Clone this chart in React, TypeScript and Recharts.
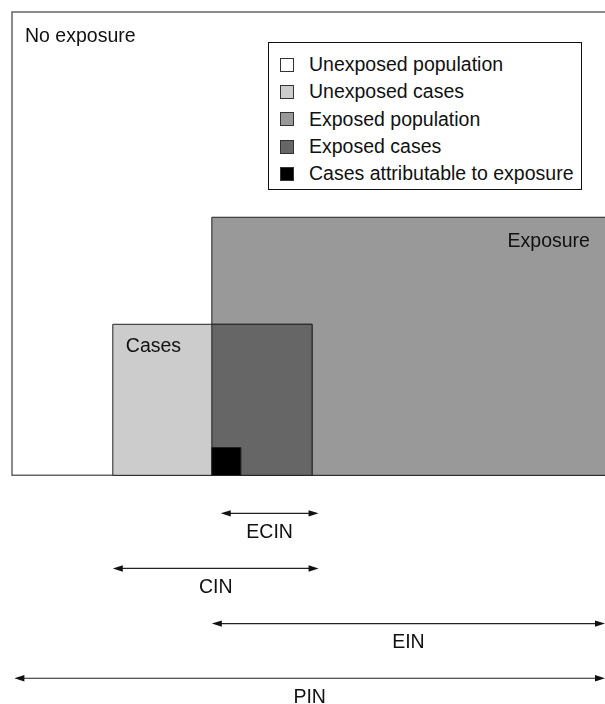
import React from 'react';
import { ComposedChart, XAxis, YAxis, ReferenceArea, ReferenceLine, Legend } from 'recharts';

const FONT = '"Liberation Sans", Arial, sans-serif';

// diagram units: whole population is 100 wide and 100 tall, intervals sit below 0
const regionNames = ['No exposure', 'Exposure', 'Cases', '', ''];
const regionX1 = [0, 33.7, 17.0, 33.7, 33.7];
const regionX2 = [101, 101, 50.6, 50.6, 38.6];
const regionTop = [100, 55.7, 32.6, 32.6, 6.0];

const intervalNames = ['ECIN', 'CIN', 'EIN', 'PIN'];
const intervalStart = [35.2, 17.0, 33.7, 0.4];
const intervalEnd = [51.7, 51.7, 100, 100];
const intervalLevel = [-8.2, -20.1, -32.0, -43.8];

const legendLabels = [
  'Unexposed population',
  'Unexposed cases',
  'Exposed population',
  'Exposed cases',
  'Cases attributable to exposure',
];

const regionFill = ['#ffffff', '#999999', '#cccccc', '#666666', '#000000'];
const regionStroke = ['#666666', '#222222', '#222222', '#222222', '#222222'];
const legendColors = ['#ffffff', '#cccccc', '#999999', '#666666', '#000000'];

const RegionLabel = ({ viewBox, text, side, dx, baseline }: any) => {
  if (!viewBox || !text) return null;
  const x = side === 'right' ? viewBox.x + viewBox.width - dx : viewBox.x + dx;
  return (
    <text
      x={x}
      y={viewBox.y + baseline}
      textAnchor={side === 'right' ? 'end' : 'start'}
      fill="#111"
      fontSize={19.5}
      fontFamily={FONT}
    >
      {text}
    </text>
  );
};

const labelPlacement = [
  { side: 'left', dx: 13, baseline: 30 },
  { side: 'right', dx: 21, baseline: 30 },
  { side: 'left', dx: 13, baseline: 28 },
  { side: 'left', dx: 0, baseline: 0 },
  { side: 'left', dx: 0, baseline: 0 },
];

const Arrow = (props: any) => {
  const { x1, y1, x2, y2 } = props;
  const h = 10;
  const w = 3.2;
  return (
    <g>
      <line x1={x1 + h - 1} y1={y1} x2={x2 - h + 1} y2={y2} stroke="#222" strokeWidth={1.2} />
      <polygon points={`${x1},${y1} ${x1 + h},${y1 - w} ${x1 + h},${y1 + w}`} fill="#111" />
      <polygon points={`${x2},${y2} ${x2 - h},${y2 - w} ${x2 - h},${y2 + w}`} fill="#111" />
    </g>
  );
};

const LegendBox = () => (
  <div
    style={{
      boxSizing: 'border-box',
      width: 314,
      height: 148,
      border: '1px solid #111',
      background: '#fff',
      padding: '8px 0 0 11px',
      fontFamily: FONT,
      fontSize: 19.5,
      color: '#111',
    }}
  >
    {legendLabels.map((label, i) => (
      <div key={label} style={{ display: 'flex', alignItems: 'center', height: 27.3 }}>
        <span
          style={{
            display: 'inline-block',
            boxSizing: 'border-box',
            width: 14,
            height: 14,
            background: legendColors[i],
            border: '1px solid #333',
            marginRight: 15,
          }}
        />
        <span style={{ whiteSpace: 'nowrap' }}>{label}</span>
      </div>
    ))}
  </div>
);

export default function App() {
  return (
    <div
      style={{
        position: 'fixed',
        left: 8,
        top: 8,
        width: 597,
        height: 696,
        overflow: 'hidden',
        fontFamily: FONT,
      }}
    >
      <ComposedChart width={610} height={699} margin={{ top: 4, right: 13, bottom: 0, left: 4 }}>
        <XAxis type="number" dataKey="x" domain={[0, 100]} hide allowDataOverflow />
        <YAxis type="number" dataKey="y" domain={[-50, 100]} hide allowDataOverflow />
        {regionNames.map((name, i) => (
          <ReferenceArea
            key={i}
            x1={regionX1[i]}
            x2={regionX2[i]}
            y1={0}
            y2={regionTop[i]}
            fill={regionFill[i]}
            fillOpacity={1}
            stroke={regionStroke[i]}
            strokeWidth={i === 0 ? 1.5 : 1}
            ifOverflow="visible"
            label={<RegionLabel text={name} {...labelPlacement[i]} />}
          />
        ))}
        {intervalNames.map((name, i) => (
          <ReferenceLine
            key={name}
            segment={[
              { x: intervalStart[i], y: intervalLevel[i] },
              { x: intervalEnd[i], y: intervalLevel[i] },
            ]}
            ifOverflow="visible"
            shape={Arrow}
            label={{ value: name, position: 'bottom', offset: 11, fill: '#111', fontSize: 19.5, fontFamily: FONT }}
          />
        ))}
        <Legend
          layout="vertical"
          align="center"
          verticalAlign="middle"
          content={() => <LegendBox />}
          wrapperStyle={{ left: 260, top: 34, width: 314, height: 148 }}
        />
      </ComposedChart>
    </div>
  );
}
